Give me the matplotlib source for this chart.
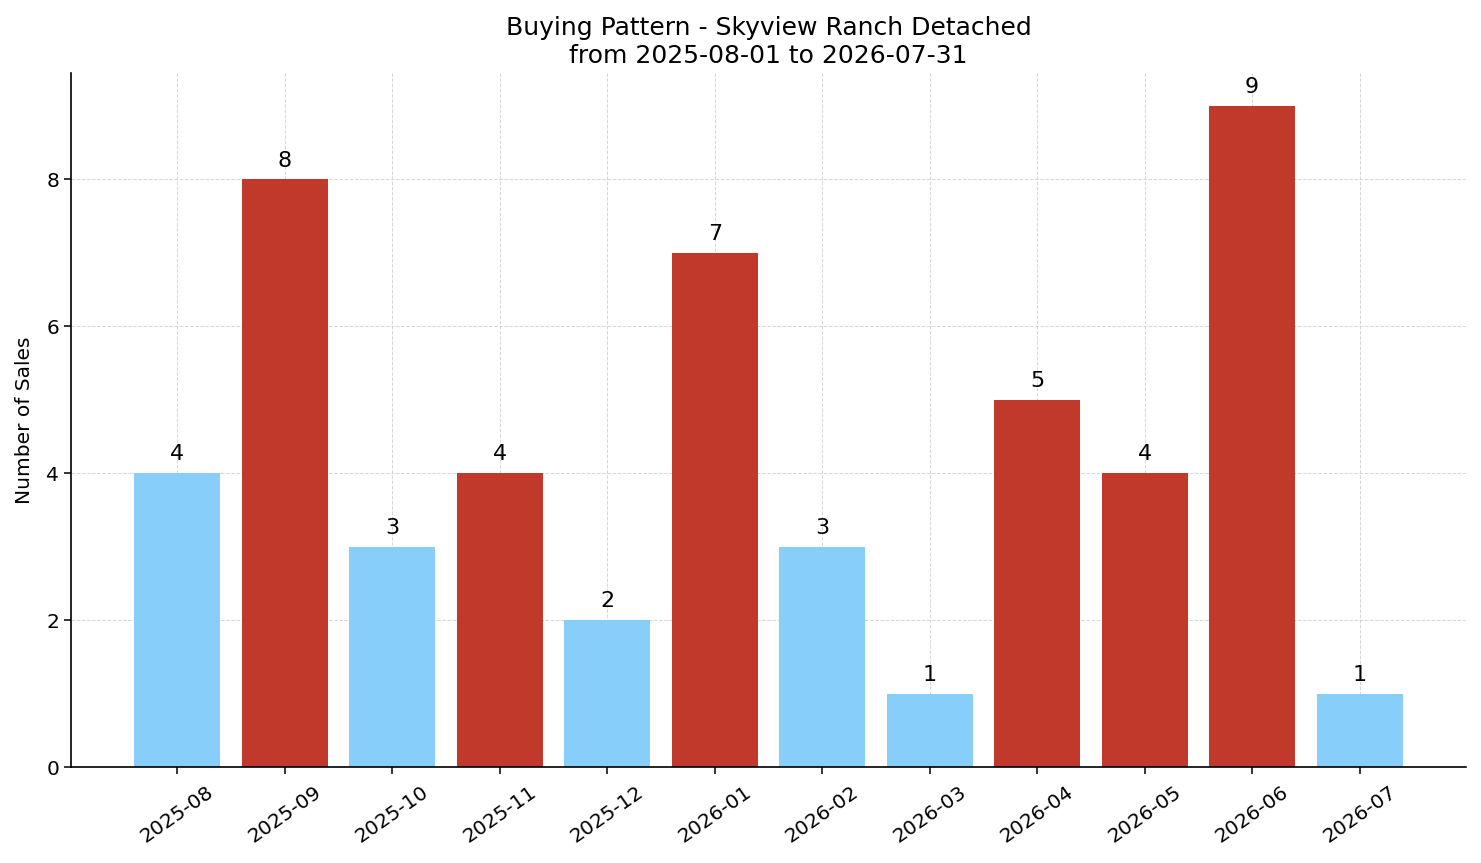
import matplotlib
matplotlib.use("Agg")
import matplotlib.pyplot as plt

months = ["2025-08", "2025-09", "2025-10", "2025-11", "2025-12", "2026-01",
          "2026-02", "2026-03", "2026-04", "2026-05", "2026-06", "2026-07"]
sales = [4, 8, 3, 4, 2, 7, 3, 1, 5, 4, 9, 1]
high = [False, True, False, True, False, True, False, False, True, True, True, False]

BLUE = "#87CEFA"
RED = "#C0392B"

fig = plt.figure(figsize=(14.81, 8.63), dpi=100)
ax = fig.add_axes([71/1481, 1 - 767/863, (1466-71)/1481, (767-73)/863])

colors = [RED if h else BLUE for h in high]
x = list(range(len(months)))
bars = ax.bar(x, sales, color=colors, width=0.8, zorder=2)
for xi, v in zip(x, sales):
    ax.text(xi, v + 0.12, str(v), ha="center", va="bottom", fontsize=16)

ax.set_xticks(x)
ax.set_xticklabels(months, rotation=35, fontsize=14.5)
ax.tick_params(axis="y", labelsize=14.5)
ax.tick_params(length=5, width=1.1)
ax.tick_params(axis="x", pad=6)
ax.set_ylim(0, 9.45)
ax.set_yticks([0, 2, 4, 6, 8])
ax.set_ylabel("Number of Sales", fontsize=14.5, labelpad=9)
ax.set_title("Buying Pattern - Skyview Ranch Detached\nfrom 2025-08-01 to 2026-07-31", fontsize=18, pad=7)
ax.grid(True, linestyle="--", color="#cccccc", linewidth=0.7, alpha=0.8, zorder=0)
ax.set_axisbelow(True)
ax.spines["top"].set_visible(False)
ax.spines["right"].set_visible(False)
for s in ("left", "bottom"):
    ax.spines[s].set_linewidth(1.2)

fig.savefig("out.png", dpi=100)
